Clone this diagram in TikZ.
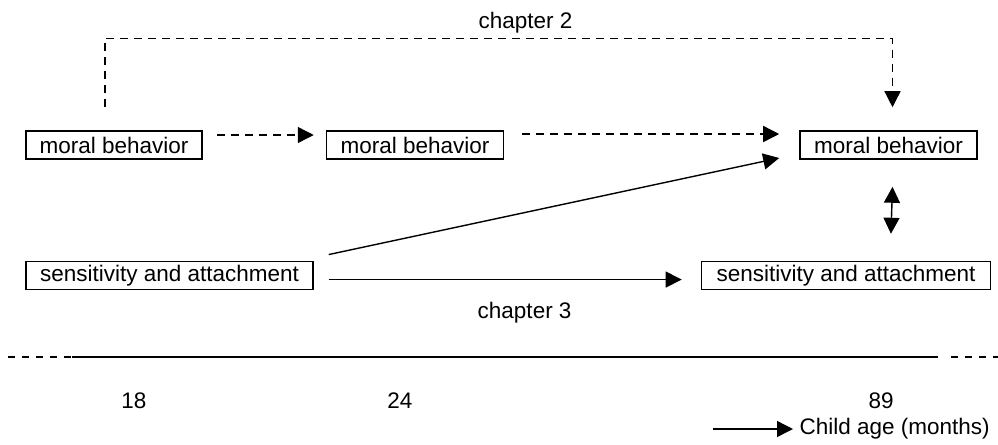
\documentclass[tikz,border=0pt]{standalone}
\usepackage{fontspec}
\setmainfont{Liberation Sans}
\usetikzlibrary{arrows.meta, positioning, calc}

\begin{document}
\begin{tikzpicture}[x=0.02cm, y=-0.02cm, >={Triangle[length=0.32cm, width=0.32cm]},
    line width=0.8pt, font=\fontsize{12.8pt}{15pt}\selectfont,
    box/.style={draw, line width=0.9pt, minimum height=0.56cm, inner sep=0pt},
    dashlink/.style={->, dash pattern=on 0.16cm off 0.12cm},
    timedash/.style={dash pattern=on 0.14cm off 0.14cm}]
  \useasboundingbox (0,0) rectangle (998,444);

  \node[box, minimum width=3.52cm] (moral18) at (114,145) {moral behavior};
  \node[right=2.46cm of moral18, box, minimum width=3.54cm] (moral24) {moral behavior};
  \node[right=5.9cm of moral24, box, minimum width=3.54cm] (moral89) {moral behavior};
  \node[below=2.02cm of moral18.south west, anchor=north west, box,
        minimum width=5.74cm] (sens18) {sensitivity and attachment};
  \node[right=7.74cm of sens18, box, minimum width=5.78cm] (sens89) {sensitivity and attachment};

  \draw[dashlink] ($(moral18.east)+(14,-10)$) -- ($(moral24.west)+(-12,-10)$);
  \draw[dashlink] ($(moral24.east)+(18,-11)$) -- ($(moral89.west)+(-20,-11)$);
  \draw[dashlink] ($(moral18.north)+(-9,-23)$) -- ++(0,-69)
    -| node[pos=0.267, anchor=base, yshift=0.2cm] (ch2) {chapter 2} ($(moral89.north)+(4,-23)$);
  \draw[->] ($(sens18.east)+(15,-21)$) -- ($(moral89.west)+(-20,13)$);
  \draw[->] ($(sens18.east)+(15,4)$)
    -- node[pos=0.555, anchor=base, yshift=-0.78cm] (ch3) {chapter 3} ($(sens89.west)+(-19,4)$);
  \draw[<->] ($(moral89.south)+(4,27)$) -- ($(sens89.north)+(45,-27)$);

  % time line
  \draw[timedash] (8,357) -- (72,357);
  \draw (72,357) -- (938,357);
  \draw[timedash] (951,357) -- (998,357);

  \node[anchor=base] (age18) at (134,408) {18};
  \node[anchor=base] (age24) at (400,408) {24};
  \node[anchor=base] (age89) at (881,408) {89};
  \node[anchor=west] (agelabel) at (793,429) {Child age (months)};
  \coordinate (agestart) at (713,429);
  \draw[->] (agestart) -- (agelabel.west);
\end{tikzpicture}
\end{document}
